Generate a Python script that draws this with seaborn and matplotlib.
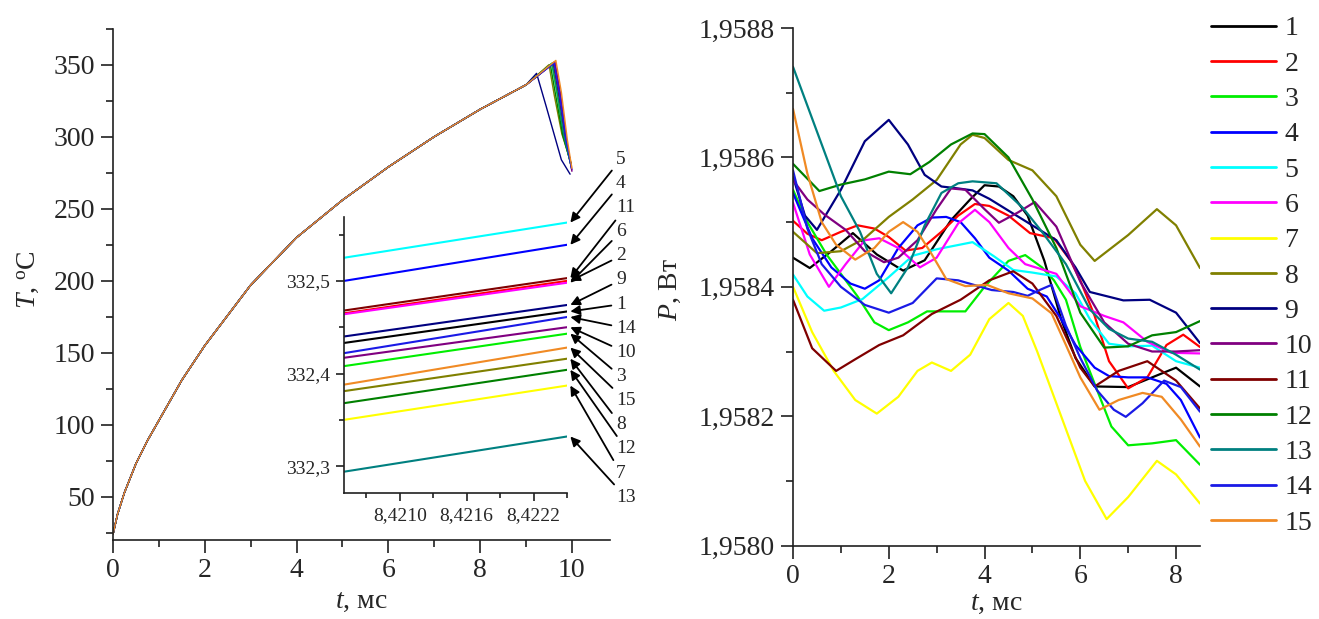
import matplotlib
matplotlib.use("Agg")
import matplotlib.pyplot as plt
import seaborn as sns
import pandas as pd
from matplotlib.ticker import MultipleLocator, FuncFormatter
from matplotlib.lines import Line2D

sns.set_theme(style="ticks")
plt.rcParams['font.family'] = ['Liberation Serif', 'DejaVu Serif']
plt.rcParams['mathtext.fontset'] = 'custom'
plt.rcParams['mathtext.rm'] = 'Liberation Serif'
plt.rcParams['mathtext.it'] = 'Liberation Serif:italic'

labels = [str(i) for i in range(1, 16)]
colors = ['#000000', '#FF0000', '#00EE00', '#0000FF', '#00FFFF', '#FF00FF', '#FFFF00', '#808000',
          '#000080', '#800080', '#800000', '#008000', '#008080', '#1A1AE6', '#F08A24']

# ---- left panel: T(t), common rise + individual fall near 10 ms
t_rise = [0, 0.1, 0.25, 0.5, 0.75, 1, 1.5, 2, 3, 4, 5, 6, 7, 8, 9]
T_rise = [24, 38, 53, 73, 89, 103, 131, 155, 197, 230, 256, 279, 300, 319, 336]
pk_t = [9.58, 9.60, 9.56, 9.62, 9.60, 9.60, 9.58, 9.50, 9.23, 9.63, 9.59, 9.53, 9.57, 9.61, 9.65]
pk_T = [351, 351, 351, 352, 351, 351, 351, 350, 344, 352, 351, 350, 351, 351, 353]
d1_t = [9.70, 9.72, 9.68, 9.74, 9.72, 9.72, 9.70, 9.62, 9.44, 9.75, 9.71, 9.65, 9.69, 9.73, 9.77]
d1_T = [329, 329, 329, 330, 329, 329, 329, 328, 321, 330, 329, 328, 329, 329, 331]
d2_t = [9.84, 9.86, 9.82, 9.88, 9.86, 9.86, 9.84, 9.78, 9.77, 9.89, 9.85, 9.80, 9.83, 9.87, 9.90]
d2_T = [299, 299, 300, 297, 299, 299, 300, 302, 284, 296, 299, 301, 300, 298, 298]
end_t = [9.98, 9.99, 9.98, 10.00, 9.99, 9.99, 9.98, 9.97, 9.96, 10.00, 9.99, 9.98, 9.98, 9.99, 10.00]
end_T = [280, 279, 281, 277, 279, 279, 280, 283, 274, 276, 280, 281, 280, 278, 278]

# ---- inset: T near t = 8.421 ms (start / end of the window)
t_in = [8.4205, 8.4225]
T_in_start = [332.433, 332.465, 332.408, 332.500, 332.525, 332.464, 332.350, 332.381,
              332.440, 332.417, 332.468, 332.368, 332.294, 332.422, 332.388]
T_in_end = [332.467, 332.500, 332.443, 332.539, 332.563, 332.498, 332.387, 332.416,
            332.474, 332.450, 332.503, 332.404, 332.332, 332.461, 332.428]
arrow_order = ['5', '4', '11', '6', '2', '9', '1', '14', '10', '3', '15', '8', '12', '7', '13']

# ---- right panel: P(t), one pair of lists per curve
t1 = [0, 0.35, 0.8, 1.25, 1.75, 2.3, 2.75, 3.3, 3.7, 4.0, 4.3, 4.6, 4.9, 5.25, 5.6, 5.9, 6.3, 7.0, 7.5, 8.0, 8.5]
p1 = [4.45, 4.29, 4.55, 4.83, 4.5, 4.25, 4.41, 5.03, 5.35, 5.57, 5.55, 5.4, 5.1, 4.4, 3.5, 2.9, 2.46, 2.45, 2.6, 2.75, 2.46]
t2 = [0, 0.3, 0.6, 1.0, 1.35, 1.7, 2.0, 2.35, 2.7, 3.1, 3.45, 3.8, 4.1, 4.5, 4.95, 5.45, 5.8, 6.0, 6.3, 6.6, 7.0, 7.4, 7.8, 8.15, 8.5]
p2 = [5.02, 4.82, 4.72, 4.85, 4.95, 4.9, 4.77, 4.56, 4.6, 4.85, 5.1, 5.28, 5.25, 5.1, 4.83, 4.75, 4.4, 4.1, 3.55, 2.85, 2.43, 2.6, 3.1, 3.26, 3.07]
t3 = [0, 0.3, 0.7, 1.0, 1.35, 1.7, 2.0, 2.4, 2.8, 3.2, 3.6, 4.0, 4.5, 4.85, 5.2, 5.45, 5.7, 6.0, 6.3, 6.65, 7.0, 7.5, 8.0, 8.5]
p3 = [5.5, 5.0, 4.5, 4.2, 3.85, 3.45, 3.33, 3.45, 3.62, 3.62, 3.62, 4.0, 4.4, 4.49, 4.3, 4.1, 3.8, 3.07, 2.5, 1.84, 1.55, 1.58, 1.63, 1.25]
t4 = [0, 0.4, 0.8, 1.2, 1.5, 1.8, 2.2, 2.6, 2.9, 3.2, 3.5, 3.8, 4.1, 4.5, 4.9, 5.3, 5.6, 5.9, 6.3, 6.6, 7.0, 7.4, 7.8, 8.1, 8.5]
p4 = [5.45, 4.75, 4.3, 4.05, 3.97, 4.1, 4.6, 4.95, 5.07, 5.08, 5.0, 4.75, 4.45, 4.25, 3.97, 3.85, 3.5, 3.1, 2.75, 2.62, 2.6, 2.6, 2.5, 2.25, 1.67]
t5 = [0, 0.3, 0.65, 1.0, 1.45, 2.0, 2.5, 3.0, 3.75, 4.2, 4.6, 5.0, 5.5, 5.9, 6.2, 6.6, 7.0, 7.5, 8.0, 8.5]
p5 = [4.19, 3.85, 3.63, 3.68, 3.81, 4.15, 4.48, 4.58, 4.69, 4.47, 4.26, 4.22, 4.16, 3.9, 3.5, 3.12, 3.08, 3.09, 2.85, 2.75]
t6 = [0, 0.35, 0.75, 1.1, 1.5, 1.8, 2.2, 2.65, 3.0, 3.45, 3.8, 4.1, 4.5, 4.85, 5.5, 6.0, 6.5, 6.9, 7.4, 7.9, 8.5]
p6 = [5.3, 4.5, 4.0, 4.35, 4.72, 4.75, 4.6, 4.3, 4.45, 4.98, 5.19, 5.0, 4.6, 4.35, 4.2, 3.7, 3.55, 3.45, 3.15, 2.98, 2.97]
t7 = [0, 0.4, 0.85, 1.3, 1.75, 2.2, 2.6, 2.9, 3.3, 3.7, 4.1, 4.5, 4.8, 5.1, 5.6, 6.1, 6.55, 7.0, 7.6, 8.0, 8.5]
p7 = [4.0, 3.3, 2.7, 2.25, 2.04, 2.3, 2.7, 2.83, 2.70, 2.95, 3.5, 3.75, 3.55, 3.0, 2.0, 1.0, 0.41, 0.75, 1.31, 1.1, 0.65]
t8 = [0, 0.5, 1.0, 1.5, 2.0, 2.5, 3.0, 3.5, 3.75, 4.0, 4.5, 5.0, 5.5, 6.0, 6.3, 7.0, 7.6, 8.0, 8.5]
p8 = [4.85, 4.52, 4.55, 4.75, 5.08, 5.35, 5.65, 6.20, 6.35, 6.30, 5.96, 5.80, 5.40, 4.65, 4.40, 4.80, 5.20, 4.95, 4.29]
t9 = [0, 0.25, 0.5, 1.0, 1.5, 2.0, 2.4, 2.75, 3.1, 3.45, 3.75, 4.1, 4.8, 5.5, 5.9, 6.2, 6.9, 7.45, 8.0, 8.5]
p9 = [5.7, 5.1, 4.88, 5.5, 6.25, 6.58, 6.2, 5.73, 5.55, 5.52, 5.49, 5.36, 5.04, 4.72, 4.3, 3.92, 3.79, 3.80, 3.6, 3.13]
t10 = [0, 0.3, 0.65, 1.1, 1.5, 1.9, 2.2, 2.6, 3.0, 3.3, 3.6, 4.0, 4.3, 4.7, 5.05, 5.5, 6.0, 6.5, 7.0, 7.5, 8.0, 8.5]
p10 = [5.65, 5.35, 5.12, 4.88, 4.55, 4.38, 4.45, 4.72, 5.2, 5.52, 5.5, 5.2, 4.99, 5.15, 5.31, 4.93, 4.08, 3.45, 3.12, 3.0, 3.0, 3.02]
t11 = [0, 0.4, 0.9, 1.3, 1.8, 2.3, 2.9, 3.5, 4.1, 4.6, 5.0, 5.5, 6.0, 6.3, 6.8, 7.4, 8.0, 8.5]
p11 = [3.80, 3.05, 2.70, 2.88, 3.10, 3.25, 3.58, 3.80, 4.10, 4.24, 4.05, 3.55, 2.75, 2.46, 2.70, 2.85, 2.55, 2.12]
t12 = [0, 0.55, 1.0, 1.5, 2.0, 2.45, 2.85, 3.3, 3.75, 4.0, 4.5, 5.0, 5.5, 6.0, 6.5, 7.0, 7.5, 8.0, 8.5]
p12 = [5.9, 5.48, 5.58, 5.66, 5.78, 5.74, 5.93, 6.2, 6.37, 6.36, 6.0, 5.35, 4.6, 3.6, 3.06, 3.08, 3.25, 3.3, 3.47]
t13 = [0, 0.5, 1.0, 1.4, 1.75, 2.05, 2.4, 2.75, 3.1, 3.45, 3.75, 4.25, 4.8, 5.2, 5.7, 6.2, 6.6, 7.0, 7.5, 8.0, 8.5]
p13 = [7.4, 6.4, 5.4, 4.85, 4.2, 3.9, 4.3, 4.95, 5.45, 5.6, 5.63, 5.6, 5.22, 4.85, 4.35, 3.65, 3.35, 3.2, 3.15, 2.95, 2.72]
t14 = [0, 0.3, 0.6, 1.0, 1.5, 2.0, 2.5, 3.0, 3.45, 4.15, 4.6, 4.9, 5.15, 5.4, 5.7, 6.0, 6.35, 6.7, 6.95, 7.3, 7.75, 8.1, 8.5]
p14 = [5.8, 4.9, 4.35, 4.0, 3.72, 3.6, 3.75, 4.13, 4.1, 3.95, 3.92, 3.86, 3.95, 4.03, 3.4, 2.9, 2.4, 2.1, 1.99, 2.2, 2.55, 2.45, 2.07]
t15 = [0, 0.3, 0.6, 0.9, 1.3, 1.7, 2.0, 2.3, 2.6, 2.9, 3.2, 3.6, 4.05, 4.5, 5.0, 5.4, 5.7, 6.0, 6.4, 6.8, 7.3, 7.7, 8.1, 8.5]
p15 = [6.75, 5.75, 5.0, 4.65, 4.42, 4.6, 4.85, 5.0, 4.85, 4.5, 4.12, 4.01, 4.03, 3.9, 3.82, 3.59, 3.1, 2.6, 2.1, 2.25, 2.36, 2.3, 1.95, 1.53]
P_BASE = 1.9580  # p-lists are in units of 1e-4 W above this value

t_lists = [t1, t2, t3, t4, t5, t6, t7, t8, t9, t10, t11, t12, t13, t14, t15]
p_lists = [p1, p2, p3, p4, p5, p6, p7, p8, p9, p10, p11, p12, p13, p14, p15]

# ---- long-form tables for seaborn
rows_T, rows_in, rows_P = [], [], []
for k, lab in enumerate(labels):
    ts = [t for t in t_rise if t < pk_t[k]] + [pk_t[k], d1_t[k], d2_t[k], end_t[k]]
    Ts = [T for t, T in zip(t_rise, T_rise) if t < pk_t[k]] + [pk_T[k], d1_T[k], d2_T[k], end_T[k]]
    rows_T += [{'t': a, 'T': b, 'curve': lab} for a, b in zip(ts, Ts)]
    rows_in += [{'t': t_in[0], 'T': T_in_start[k], 'curve': lab},
                {'t': t_in[1], 'T': T_in_end[k], 'curve': lab}]
    rows_P += [{'t': a, 'P': P_BASE + b * 1e-4, 'curve': lab} for a, b in zip(t_lists[k], p_lists[k])]
df_T = pd.DataFrame(rows_T)
df_in = pd.DataFrame(rows_in)
df_P = pd.DataFrame(rows_P)

W, H = 1319, 619
fig = plt.figure(figsize=(W / 100, H / 100), dpi=100)
ax1 = fig.add_axes([113 / W, 1 - 540 / H, 497 / W, 511.3 / H])
ax2 = fig.add_axes([793 / W, 1 - 545.6 / H, 407 / W, 517.6 / H])
axi = fig.add_axes([344 / W, 1 - 493 / H, 223 / W, 276 / H])


def comma(fmt):
    return FuncFormatter(lambda v, p: fmt.format(v).replace('.', ','))


def style(ax, size, major, minor):
    sns.despine(ax=ax)
    for s in ['left', 'bottom']:
        ax.spines[s].set_linewidth(1.2)
        ax.spines[s].set_color('#202020')
    ax.tick_params(which='major', direction='out', length=major, width=1.2, labelsize=size,
                   pad=4, color='#202020')
    ax.tick_params(which='minor', direction='out', length=minor, width=1.2, color='#202020')
    ax.set_facecolor('white')


# left panel
sns.lineplot(data=df_T, x='t', y='T', hue='curve', hue_order=labels, palette=colors,
             estimator=None, sort=False, lw=1.0, legend=False, ax=ax1)
ax1.set_xlim(0, 10.83)
ax1.set_ylim(20, 375)
ax1.xaxis.set_major_locator(MultipleLocator(2))
ax1.xaxis.set_minor_locator(MultipleLocator(1))
ax1.yaxis.set_major_locator(MultipleLocator(50))
ax1.yaxis.set_minor_locator(MultipleLocator(25))
ax1.xaxis.set_major_formatter(comma('{:.0f}'))
ax1.yaxis.set_major_formatter(comma('{:.0f}'))
style(ax1, 20, 9, 5)
ax1.set_xlabel('$t$, мс', fontsize=20)
ax1.set_ylabel('$T$, $^{\\mathrm{o}}$C', fontsize=20)
ax1.xaxis.set_label_coords(0.5, -0.095)
ax1.yaxis.set_label_coords(-0.145, 0.51)

# inset
sns.lineplot(data=df_in, x='t', y='T', hue='curve', hue_order=labels, palette=colors,
             estimator=None, sort=False, lw=1.5, legend=False, ax=axi)
axi.set_xlim(t_in[0], t_in[1])
axi.set_ylim(332.271, 332.569)
axi.xaxis.set_major_locator(MultipleLocator(0.0006))
axi.xaxis.set_minor_locator(MultipleLocator(0.0003))
axi.yaxis.set_major_locator(MultipleLocator(0.1))
axi.yaxis.set_minor_locator(MultipleLocator(0.05))
axi.xaxis.set_major_formatter(comma('{:.4f}'))
axi.yaxis.set_major_formatter(comma('{:.1f}'))
style(axi, 14, 6, 3.5)
axi.set_xlabel('')
axi.set_ylabel('')
axi.patch.set_alpha(0.0)

for i, lab in enumerate(arrow_order):
    k = labels.index(lab)
    y_txt = 159.3 + i * 24.14
    axi.annotate(lab, xy=(t_in[1] + 0.00003, T_in_end[k]), xycoords='data',
                 xytext=((616 - 344) / 223, (493 - y_txt) / 276), textcoords='axes fraction',
                 ha='left', va='center', fontsize=14, annotation_clip=False,
                 arrowprops=dict(arrowstyle='-|>', color='black', lw=1.3,
                                 mutation_scale=14, shrinkA=1, shrinkB=0))

# right panel
sns.lineplot(data=df_P, x='t', y='P', hue='curve', hue_order=labels, palette=colors,
             estimator=None, sort=False, lw=1.6, legend=False, ax=ax2)
ax2.set_xlim(0, 8.5)
ax2.set_ylim(1.9580, 1.9588)
ax2.xaxis.set_major_locator(MultipleLocator(2))
ax2.xaxis.set_minor_locator(MultipleLocator(1))
ax2.yaxis.set_major_locator(MultipleLocator(0.0002))
ax2.yaxis.set_minor_locator(MultipleLocator(0.0001))
ax2.xaxis.set_major_formatter(comma('{:.0f}'))
ax2.yaxis.set_major_formatter(comma('{:.4f}'))
style(ax2, 20, 9, 5)
ax2.set_xlabel('$t$, мс', fontsize=20)
ax2.set_ylabel('$P$, Вт', fontsize=20)
ax2.xaxis.set_label_coords(0.5, -0.088)
ax2.yaxis.set_label_coords(-0.27, 0.494)

handles = [Line2D([0], [0], color=c, lw=2) for c in colors]
fig.legend(handles, labels, loc='upper left', bbox_to_anchor=(1211 / W, 1 - 16 / H),
           frameon=False, fontsize=20, handlelength=2.35, handletextpad=0.3,
           labelspacing=0.355, borderaxespad=0, borderpad=0)

fig.savefig('out.png', dpi=100)
